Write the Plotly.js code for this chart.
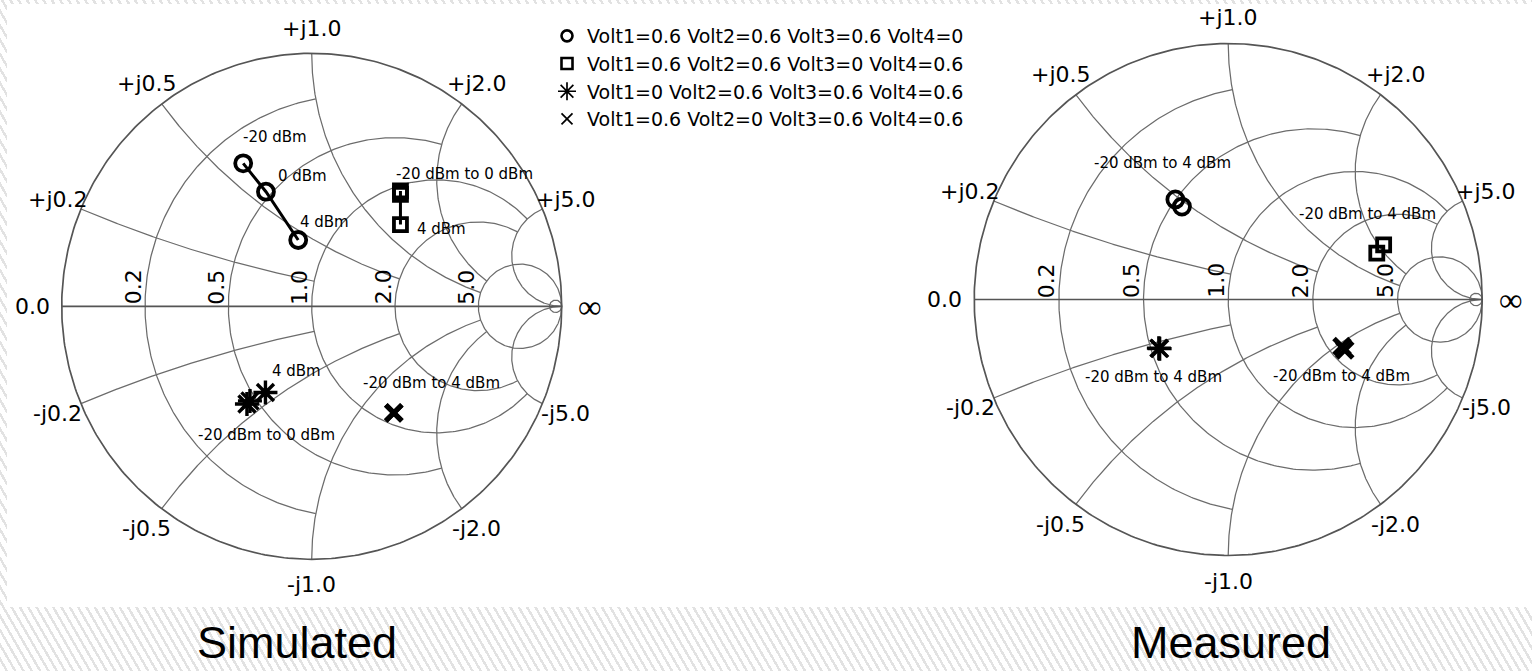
<!DOCTYPE html>
<html><head><meta charset="utf-8">
<script src="https://cdn.plot.ly/plotly-3.0.1.min.js"></script>
<style>
html,body{margin:0;padding:0;background:#fff;}
#chart{width:1532px;height:671px;background:repeating-linear-gradient(60deg,#ffffff 0px,#ffffff 4.8px,#e2e2e2 4.8px,#e2e2e2 7.2px);}
</style></head><body><div id="chart"></div>
<script>
// ---------------- data (reflection coefficient) ----------------
const seriesNames = [
  'Volt1=0.6 Volt2=0.6 Volt3=0.6 Volt4=0',
  'Volt1=0.6 Volt2=0.6 Volt3=0 Volt4=0.6',
  'Volt1=0 Volt2=0.6 Volt3=0.6 Volt4=0.6',
  'Volt1=0.6 Volt2=0 Volt3=0.6 Volt4=0.6'
];
// Simulated
const simCircleRe = [-0.274, -0.183, -0.054];
const simCircleIm = [0.565, 0.453, 0.262];
const simSquareRe = [0.355, 0.355, 0.355];
const simSquareIm = [0.456, 0.442, 0.323];
const simStarRe = [-0.259, -0.247, -0.185];
const simStarIm = [-0.386, -0.374, -0.341];
const simXRe = [0.328, 0.329];
const simXIm = [-0.422, -0.421];
// Measured
const measCircleRe = [-0.208, -0.182];
const measCircleIm = [0.391, 0.363];
const measSquareRe = [0.612, 0.585];
const measSquareIm = [0.213, 0.181];
const measStarRe = [-0.273, -0.270];
const measStarIm = [-0.190, -0.192];
const measXRe = [0.448, 0.459];
const measXIm = [-0.184, -0.197];
// tick values / labels
const gridValues = [0.2, 0.5, 1.0, 2.0, 5.0];
const realTickLabels = ['0.2', '0.5', '1.0', '2.0', '5.0'];
const imagTickLabelsPos = ['+j0.2', '+j0.5', '+j1.0', '+j2.0', '+j5.0'];
const imagTickLabelsNeg = ['-j0.2', '-j0.5', '-j1.0', '-j2.0', '-j5.0'];
const endLabels = ['0.0', '\u221E'];
const chartTitles = ['Simulated', 'Measured'];
// power labels
const simLabels = [
  {s: 'circle', i: 0, text: '-20 dBm'},
  {s: 'circle', i: 1, text: '0 dBm'},
  {s: 'circle', i: 2, text: '4 dBm'},
  {s: 'square', i: 0, text: '-20 dBm to 0 dBm'},
  {s: 'square', i: 2, text: '4 dBm'},
  {s: 'star', i: 2, text: '4 dBm'},
  {s: 'star', i: 0, text: '-20 dBm to 0 dBm'},
  {s: 'x', i: 0, text: '-20 dBm to 4 dBm'}
];
const measLabels = [
  {s: 'circle', i: 0, text: '-20 dBm to 4 dBm'},
  {s: 'square', i: 0, text: '-20 dBm to 4 dBm'},
  {s: 'star', i: 0, text: '-20 dBm to 4 dBm'},
  {s: 'x', i: 0, text: '-20 dBm to 4 dBm'}
];

// ---------------- layout / style ----------------
const W = 1532, H = 671;
const FONT = 'DejaVu Sans';
const TFONT = 'Liberation Sans';
const charts = [
  {xa: 'x', ya: 'y', cx: 311.7, cy: 306.3, sx: 250, sy: 253, half: 1.2},
  {xa: 'x2', ya: 'y2', cx: 1228.2, cy: 299.5, sx: 254, sy: 256, half: 1.15}
];
const gridReach = [1, 2, 5, 5, Infinity];   // extent of each grid arc (fancy grid)
const GRID = '#6c6c6c', OUTER = '#555555';

function gam(r, x) {
  const d = (r + 1) * (r + 1) + x * x;
  return [(r * r - 1 + x * x) / d, 2 * x / d];
}
function norm(a) { while (a < 0) a += 2 * Math.PI; while (a >= 2 * Math.PI) a -= 2 * Math.PI; return a; }

function gridTraces(c) {
  const xs = [], ys = [];
  const N = 260;
  const push = pts => { pts.forEach(p => { xs.push(p[0]); ys.push(p[1]); }); xs.push(null); ys.push(null); };
  gridValues.forEach((r, i) => {
    const lim = gridReach[i];
    const c0 = r / (1 + r), rho = 1 / (1 + r);
    let t1 = 0;
    if (isFinite(lim)) { const g = gam(r, lim); t1 = Math.atan2(g[1], g[0] - c0); }
    const pts = [];
    for (let k = 0; k <= N; k++) { const t = t1 + (2 * Math.PI - 2 * t1) * k / N; pts.push([c0 + rho * Math.cos(t), rho * Math.sin(t)]); }
    push(pts);
  });
  gridValues.forEach((x, i) => {
    const lim = gridReach[i];
    [1, -1].forEach(s => {
      const cc = 1 / x, rad = 1 / x;
      const g0 = gam(0, x);
      const p0 = norm(Math.atan2(g0[1] - cc, g0[0] - 1));
      let p1 = 1.5 * Math.PI;
      if (isFinite(lim)) { const g = gam(lim, x); p1 = norm(Math.atan2(g[1] - cc, g[0] - 1)); }
      const pts = [];
      for (let k = 0; k <= N; k++) { const p = p0 + (p1 - p0) * k / N; pts.push([1 + rad * Math.cos(p), s * (cc + rad * Math.sin(p))]); }
      push(pts);
    });
  });
  { const r = 40, c0 = r / (1 + r), rho = 1 / (1 + r), pts = [];
    for (let k = 0; k <= 60; k++) { const t = 2 * Math.PI * k / 60; pts.push([c0 + rho * Math.cos(t), rho * Math.sin(t)]); }
    push(pts); }
  const grid = {type: 'scatter', mode: 'lines', x: xs, y: ys, xaxis: c.xa, yaxis: c.ya,
    line: {color: GRID, width: 1.25}, hoverinfo: 'skip', showlegend: false};
  const ox = [], oy = [];
  for (let k = 0; k <= 400; k++) { const t = 2 * Math.PI * k / 400; ox.push(Math.cos(t)); oy.push(Math.sin(t)); }
  ox.push(null, -1, 1); oy.push(null, 0, 0);
  const outer = {type: 'scatter', mode: 'lines', x: ox, y: oy, xaxis: c.xa, yaxis: c.ya,
    line: {color: OUTER, width: 1.7}, hoverinfo: 'skip', showlegend: false};
  return [grid, outer];
}

const styles = {
  circle: {symbol: 'circle-open', size: 16, lw: 3.8},
  square: {symbol: 'square-open', size: 13, lw: 3.8},
  star: {symbol: 'asterisk-open', size: 20, lw: 3.4},
  x: {symbol: 'x-thin-open', size: 16, lw: 5}
};
function pts(c, re, im, st, mode) {
  const s = styles[st];
  return {type: 'scatter', mode: mode, x: re, y: im, xaxis: c.xa, yaxis: c.ya, showlegend: false,
    hoverinfo: 'skip', cliponaxis: false,
    line: {color: '#000', width: 3},
    marker: {symbol: s.symbol, size: s.size, color: '#000', line: {color: '#000', width: s.lw}}};
}

const traces = [];
charts.forEach(c => traces.push(...gridTraces(c)));
const L = charts[0], R = charts[1];
traces.push(pts(L, simCircleRe, simCircleIm, 'circle', 'lines+markers'));
traces.push(pts(L, simSquareRe, simSquareIm, 'square', 'lines+markers'));
traces.push(pts(L, simStarRe, simStarIm, 'star', 'markers'));
traces.push(pts(L, simXRe, simXIm, 'x', 'markers'));
traces.push(pts(R, measCircleRe, measCircleIm, 'circle', 'markers'));
traces.push(pts(R, measSquareRe, measSquareIm, 'square', 'markers'));
traces.push(pts(R, measStarRe, measStarIm, 'star', 'markers'));
traces.push(pts(R, measXRe, measXIm, 'x', 'markers'));
const legSym = [['circle-open', 11, 2.6], ['square-open', 11, 2.6], ['asterisk-open', 15, 1.7], ['x-thin-open', 11, 1.7]];
seriesNames.forEach((n, i) => traces.push({type: 'scatter', mode: 'markers', x: [null], y: [null], xaxis: 'x', yaxis: 'y',
  name: n, legendgroup: 'g' + i, showlegend: true,
  marker: {symbol: legSym[i][0], size: legSym[i][1], color: '#000', line: {color: '#000', width: legSym[i][2]}}}));

const ann = [];
const TICK = 22;
charts.forEach(c => {
  gridValues.forEach((v, i) => {
    const gp = gam(0, v);
    ann.push({xref: c.xa, yref: c.ya, x: gp[0] * 1.1, y: gp[1] * 1.1, text: imagTickLabelsPos[i], showarrow: false,
      xanchor: 'center', yanchor: 'middle', font: {family: FONT, size: TICK, color: '#000'}});
    ann.push({xref: c.xa, yref: c.ya, x: gp[0] * 1.1, y: -gp[1] * 1.1, text: imagTickLabelsNeg[i], showarrow: false,
      xanchor: 'center', yanchor: 'middle', font: {family: FONT, size: TICK, color: '#000'}});
    ann.push({xref: c.xa, yref: c.ya, x: (v - 1) / (v + 1), y: 0, xshift: -12, yshift: 19, textangle: -90,
      text: realTickLabels[i], showarrow: false, xanchor: 'center', yanchor: 'middle',
      font: {family: FONT, size: TICK, color: '#000'}});
  });
  ann.push({xref: c.xa, yref: c.ya, x: -1.115, y: 0, text: endLabels[0], showarrow: false,
    xanchor: 'center', yanchor: 'middle', font: {family: FONT, size: TICK, color: '#000'}});
  ann.push({xref: c.xa, yref: c.ya, x: 1.115, y: 0, yshift: 1, text: endLabels[1], showarrow: false,
    textangle: 0, xanchor: 'center', yanchor: 'middle', font: {family: 'Noto Sans', size: 33, color: '#000'}});
});
const seriesData = {
  sim: {circle: [simCircleRe, simCircleIm], square: [simSquareRe, simSquareIm], star: [simStarRe, simStarIm], x: [simXRe, simXIm]},
  meas: {circle: [measCircleRe, measCircleIm], square: [measSquareRe, measSquareIm], star: [measStarRe, measStarIm], x: [measXRe, measXIm]}
};
const simShift = [[32, 26], [37, 16], [26, 18.5], [64.5, 17], [41, -4.5], [31, 22], [20, -31], [38, 30]];
const measShift = [[-13, 36], [-16, 31], [-5, -29], [0, -29]];
simLabels.forEach((l, k) => {
  const d = seriesData.sim[l.s];
  ann.push({xref: 'x', yref: 'y', x: d[0][l.i], y: d[1][l.i], xshift: simShift[k][0], yshift: simShift[k][1],
    text: l.text, showarrow: false, xanchor: 'center', yanchor: 'middle', font: {family: FONT, size: 15, color: '#000'}});
});
measLabels.forEach((l, k) => {
  const d = seriesData.meas[l.s];
  ann.push({xref: 'x2', yref: 'y2', x: d[0][l.i], y: d[1][l.i], xshift: measShift[k][0], yshift: measShift[k][1],
    text: l.text, showarrow: false, xanchor: 'center', yanchor: 'middle', font: {family: FONT, size: 15, color: '#000'}});
});
ann.push({xref: 'paper', yref: 'paper', x: 296.5 / W, y: 0, yshift: 1, text: chartTitles[0], showarrow: false,
  xanchor: 'center', yanchor: 'bottom', font: {family: TFONT, size: 45, color: '#000'}});
ann.push({xref: 'paper', yref: 'paper', x: 1231 / W, y: 0, yshift: 1, text: chartTitles[1], showarrow: false,
  xanchor: 'center', yanchor: 'bottom', font: {family: TFONT, size: 45, color: '#000'}});

function ax(c, dom) {
  return {domain: dom, range: [-c.half, c.half], visible: false, fixedrange: true, showgrid: false, zeroline: false};
}
const layout = {
  width: W, height: H, margin: {l: 0, r: 0, t: 0, b: 0},
  paper_bgcolor: 'rgba(0,0,0,0)', plot_bgcolor: 'rgba(0,0,0,0)',
  font: {family: FONT, color: '#000'},
  xaxis: ax(L, [(L.cx - L.half * L.sx) / W, (L.cx + L.half * L.sx) / W]),
  yaxis: ax(L, [(H - (L.cy + L.half * L.sy)) / H, (H - (L.cy - L.half * L.sy)) / H]),
  xaxis2: ax(R, [(R.cx - R.half * R.sx) / W, (R.cx + R.half * R.sx) / W]),
  yaxis2: ax(R, [(H - (R.cy + R.half * R.sy)) / H, (H - (R.cy - R.half * R.sy)) / H]),
  showlegend: true,
  legend: {x: 547 / W, xanchor: 'left', y: (H - 17) / H, yanchor: 'top', bgcolor: 'rgba(0,0,0,0)',
    font: {family: FONT, size: 19, color: '#000'}, tracegroupgap: 10, traceorder: 'normal'},
  shapes: [{type: 'rect', xref: 'paper', yref: 'paper', x0: 7 / W, x1: 1, y0: (H - 607) / H, y1: (H - 4) / H,
    fillcolor: '#ffffff', line: {width: 0}, layer: 'below'}],
  annotations: ann
};
Plotly.newPlot('chart', traces, layout, {displayModeBar: false, staticPlot: true});
</script></body></html>
